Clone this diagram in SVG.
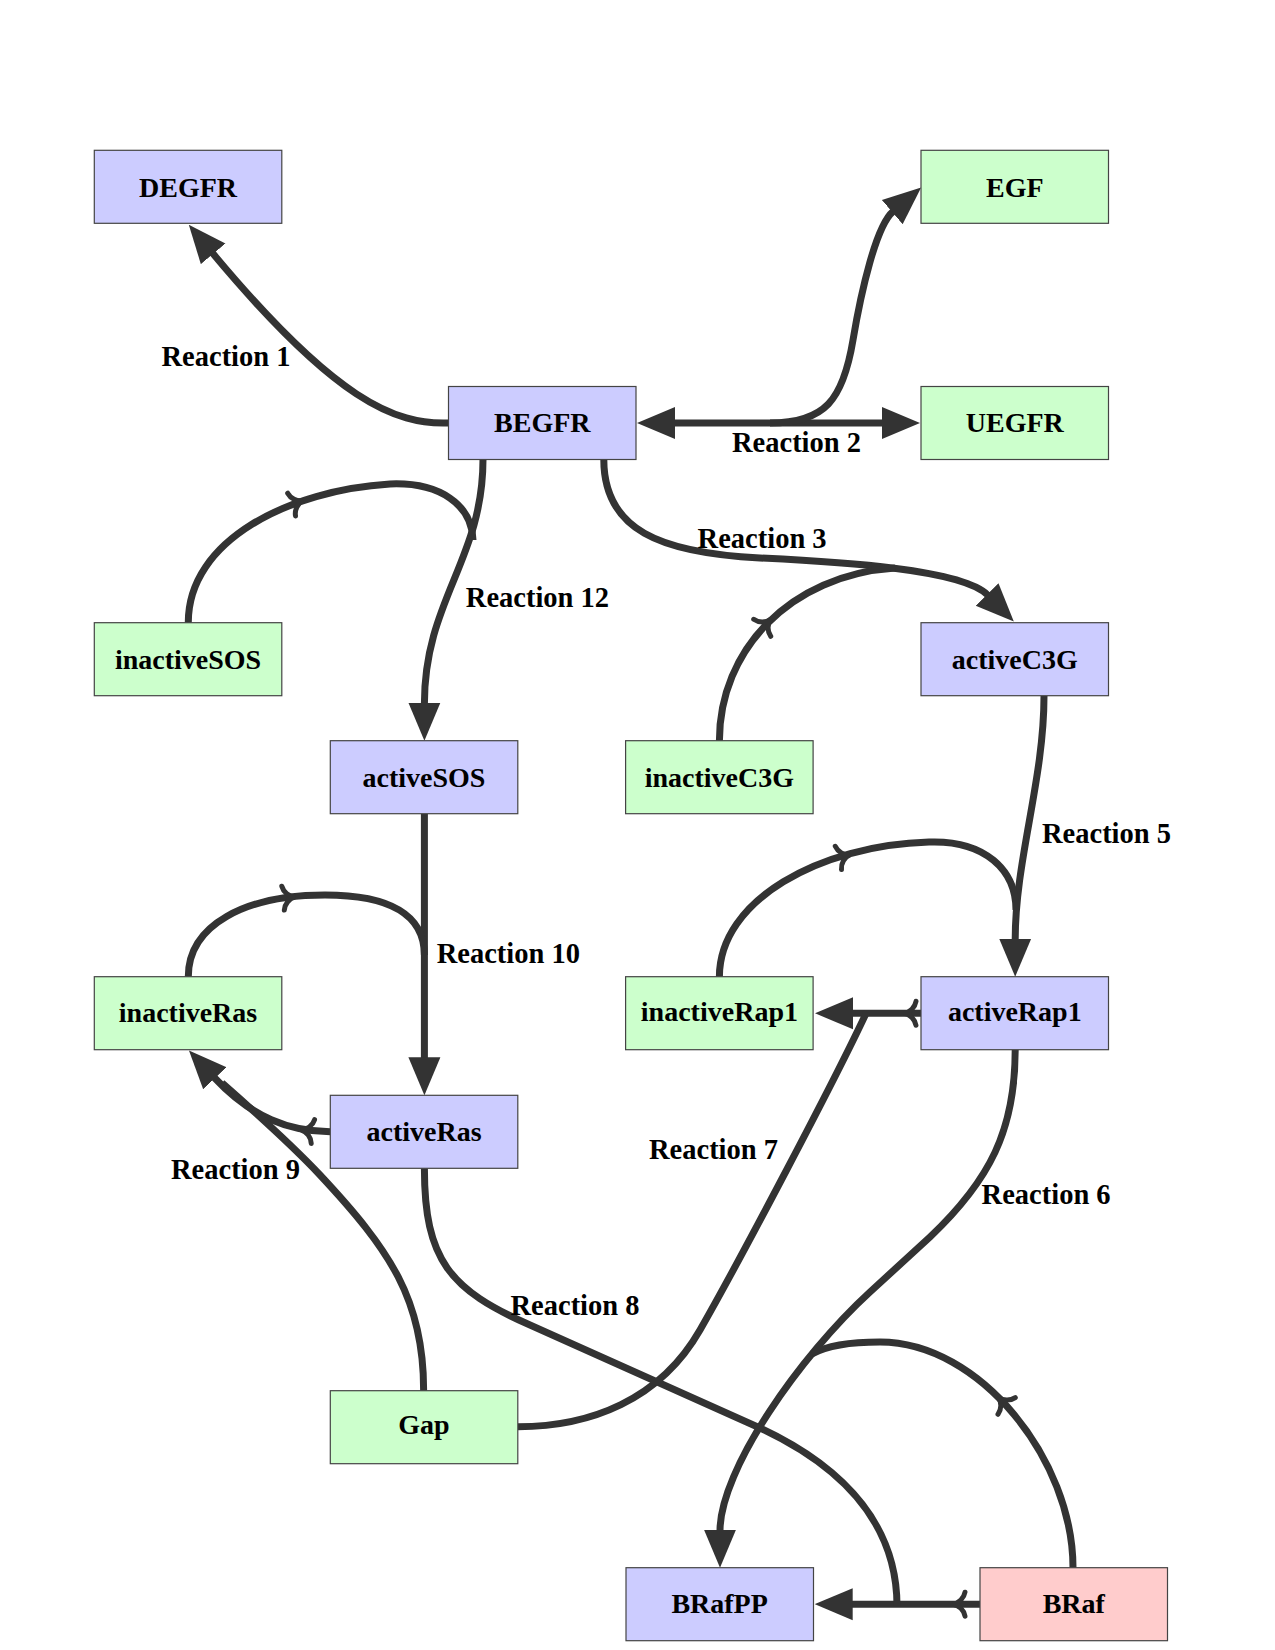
<svg xmlns="http://www.w3.org/2000/svg" xmlns:xlink="http://www.w3.org/1999/xlink" width="1275" height="1650" viewBox="0 0 1275 1650">
<style>
.node rect { stroke: #444; stroke-width: 1.2; }
.blue rect { fill: #ccccff; }
.green rect { fill: #ccffcc; }
.red rect { fill: #ffcccc; }
text { font-family: "Liberation Serif", "Times New Roman", serif; font-weight: bold; font-size: 28px; fill: #000; }
.lbl { font-size: 28.5px; }
.node text { text-anchor: middle; }
.edge { fill: none; stroke: #333; stroke-width: 7; }
.arrow { marker-end: url(#ah); }
.barb { fill: none; stroke: #333; stroke-width: 5; stroke-linecap: round; }
</style>
<defs>
<marker id="ah" markerUnits="userSpaceOnUse" viewBox="0 0 38 34" markerWidth="38" markerHeight="34" refX="1" refY="17" orient="auto-start-reverse">
<path d="M0,1 L38,17 L0,33 Z" fill="#333"/>
</marker>
<path id="barb" d="M-11,-12 C-10,-6 -5,-1 1,0 C-5,1 -10,6 -11,12"/>
</defs>
<rect width="1275" height="1650" fill="#fff"/>

<g id="connectors">
<!-- Reaction 1 -->
<path class="edge arrow" d="M448.5,423 C395,425 335,400 212.5,253.1"/>
<!-- Reaction 2 -->
<path class="edge" d="M674,423 L883,423" marker-start="url(#ah)" marker-end="url(#ah)"/>
<path class="edge arrow" d="M770,423 C825,423 843,400 853,340 C861,292 876,226 893,211.5"/>
<!-- Reaction 3 -->
<path class="edge arrow" d="M603.8,459.3 C603.8,530 660,553 760,558 C840,562 962,569 987.8,595.1"/>
<path class="edge" d="M719.4,740.7 C719.4,650 790,575 895,568"/>
<!-- Reaction 12 -->
<path class="edge arrow" d="M483,459.3 C483,560 424.4,600 424.4,703.7"/>
<path class="edge" d="M188.3,622.7 C188,540 290,490 390,484 C440,482 472,505 473,540"/>
<!-- Reaction 10 -->
<path class="edge arrow" d="M424.4,814 L424.4,1058.3"/>
<path class="edge" d="M188.3,976.7 C188.3,925 245,895 325,895 C390,895 424.4,915 424.4,955"/>
<!-- Reaction 9 -->
<path class="edge arrow" d="M330.3,1131.7 C290,1131.7 252,1118 214.2,1077.5"/>
<path class="edge" d="M423.6,1390.7 C424,1300 390,1250 320,1175 C290,1143 255,1112 222,1083"/>
<!-- Reaction 5 -->
<path class="edge arrow" d="M1044,696 C1044,780 1015.2,860 1015.2,939.7"/>
<path class="edge" d="M719.4,976.7 C719.4,900 820,845 929,842 C985,840 1016,870 1016,910"/>
<!-- Reaction 7 -->
<path class="edge arrow" d="M921,1013.3 L852,1013.3"/>
<path class="edge" d="M517.8,1426.7 C590,1426.7 660,1400 700,1330 C740,1260 835,1080 866.7,1012"/>
<!-- Reaction 6 -->
<path class="edge arrow" d="M1015.2,1050 C1015.2,1130 990,1180 930,1237 L870,1292 C800,1356 720,1470 720,1530.7"/>
<path class="edge" d="M1073,1567.7 C1073,1460 980,1342 880,1342 C850,1342 828,1345 812,1354"/>
<!-- BRaf to BRafPP -->
<path class="edge arrow" d="M980,1604.2 L851.7,1604.2"/>
<!-- Reaction 8 -->
<path class="edge" d="M424.4,1168.3 C424.4,1260 450,1290 530,1325 L760,1428 C850,1470 897,1530 897,1606"/>
<!-- barbs -->
<use xlink:href="#barb" class="barb" transform="translate(302,501) rotate(-19)"/>
<use xlink:href="#barb" class="barb" transform="translate(770,620) rotate(-45)"/>
<use xlink:href="#barb" class="barb" transform="translate(294,897) rotate(-6)"/>
<use xlink:href="#barb" class="barb" transform="translate(849,855) rotate(-15)"/>
<use xlink:href="#barb" class="barb" transform="translate(302,1130) rotate(188)"/>
<use xlink:href="#barb" class="barb" transform="translate(905,1013.3) rotate(180)"/>
<use xlink:href="#barb" class="barb" transform="translate(954,1604.2) rotate(180)"/>
<use xlink:href="#barb" class="barb" transform="translate(999,1398) rotate(-134)"/>
</g>

<g id="labels">
<text class="lbl" x="161.5" y="366">Reaction 1</text>
<text class="lbl" x="732" y="451.7">Reaction 2</text>
<text class="lbl" x="697.6" y="547.7">Reaction 3</text>
<text class="lbl" x="465.8" y="607.3">Reaction 12</text>
<text class="lbl" x="1042" y="843.3">Reaction 5</text>
<text class="lbl" x="436.7" y="963.3">Reaction 10</text>
<text class="lbl" x="649" y="1159.3">Reaction 7</text>
<text class="lbl" x="171" y="1179.3">Reaction 9</text>
<text class="lbl" x="981.6" y="1204">Reaction 6</text>
<text class="lbl" x="510.5" y="1315">Reaction 8</text>
</g>

<g id="DEGFR" class="node blue"><rect x="94.3" y="150.3" width="187.5" height="73"/><text x="188" y="196.5">DEGFR</text></g>
<g id="EGF" class="node green"><rect x="921" y="150.3" width="187.5" height="73"/><text x="1014.8" y="196.5">EGF</text></g>
<g id="BEGFR" class="node blue"><rect x="448.5" y="386.5" width="187.5" height="73"/><text x="542.3" y="432">BEGFR</text></g>
<g id="UEGFR" class="node green"><rect x="921" y="386.5" width="187.5" height="73"/><text x="1014.8" y="432">UEGFR</text></g>
<g id="inactiveSOS" class="node green"><rect x="94.3" y="622.7" width="187.5" height="73"/><text x="188" y="668.5">inactiveSOS</text></g>
<g id="activeC3G" class="node blue"><rect x="921" y="622.7" width="187.5" height="73"/><text x="1014.8" y="668.5">activeC3G</text></g>
<g id="activeSOS" class="node blue"><rect x="330.3" y="740.7" width="187.5" height="73"/><text x="424" y="786.5">activeSOS</text></g>
<g id="inactiveC3G" class="node green"><rect x="625.6" y="740.7" width="187.5" height="73"/><text x="719.4" y="786.5">inactiveC3G</text></g>
<g id="inactiveRas" class="node green"><rect x="94.3" y="976.7" width="187.5" height="73"/><text x="188" y="1022">inactiveRas</text></g>
<g id="inactiveRap1" class="node green"><rect x="625.6" y="976.7" width="187.5" height="73"/><text x="719.4" y="1020.5">inactiveRap1</text></g>
<g id="activeRap1" class="node blue"><rect x="921" y="976.7" width="187.5" height="73"/><text x="1014.8" y="1020.5">activeRap1</text></g>
<g id="activeRas" class="node blue"><rect x="330.3" y="1095.3" width="187.5" height="73"/><text x="424" y="1140.5">activeRas</text></g>
<g id="Gap" class="node green"><rect x="330.3" y="1390.7" width="187.5" height="73"/><text x="424" y="1434">Gap</text></g>
<g id="BRafPP" class="node blue"><rect x="626" y="1567.7" width="187.5" height="73"/><text x="719.6" y="1613">BRafPP</text></g>
<g id="BRaf" class="node red"><rect x="980" y="1567.7" width="187.5" height="73"/><text x="1073.8" y="1613">BRaf</text></g>
</svg>
